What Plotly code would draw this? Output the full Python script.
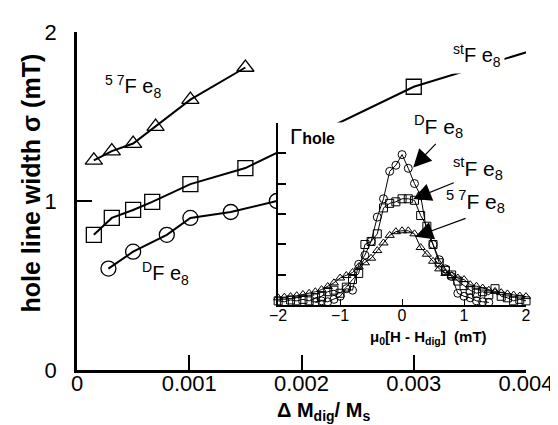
import plotly.graph_objects as go

# ---- main panel data ----
x57 = [0.00015, 0.00031, 0.0005, 0.0007, 0.00101, 0.0015]
y57 = [1.24, 1.295, 1.34, 1.44, 1.60, 1.79]

xst = [0.00015, 0.00031, 0.0005, 0.00067, 0.00101, 0.0015, 0.003, 0.0042]
yst = [0.80, 0.90, 0.947, 0.995, 1.10, 1.195, 1.676, 1.92]

xD = [0.00028, 0.0005, 0.0008, 0.00101, 0.00137, 0.00178]
yD = [0.60, 0.70, 0.80, 0.90, 0.935, 1.00]

main_xticks = [0, 0.001, 0.002, 0.003, 0.004]
main_xticktext = ["0", "0.001", "0.002", "0.003", "0.004"]
main_yticks = [0, 1, 2]

# ---- inset data ----
hx = [-2.0, -1.9, -1.8, -1.7, -1.6, -1.5, -1.4, -1.3, -1.2, -1.1, -1.0,
      -0.9, -0.8, -0.7, -0.6, -0.5, -0.4, -0.3, -0.2, -0.1, 0.0,
      0.1, 0.2, 0.3, 0.4, 0.5, 0.6, 0.7, 0.8, 0.9, 1.0,
      1.1, 1.2, 1.3, 1.4, 1.5, 1.6, 1.7, 1.8, 1.9, 2.0]

hD_x = hx[6:35]
hD = [0.10, 0.15, 0.12, 0.20, 0.30, 0.55, 0.50, 1.35, 1.65, 2.10, 2.90,
      3.50, 4.40, 4.60, 4.95, 4.50, 4.00, 3.60, 2.40, 2.00, 1.50,
      1.20, 0.95, 0.40, 0.30, 0.25, 0.15, 0.12, 0.10]

hst = [0.15, 0.12, 0.18, 0.15, 0.20, 0.15, 0.25, 0.30, 0.45, 0.50, 0.40,
       0.60, 0.85, 1.05, 2.00, 2.10, 2.35, 3.20, 3.35, 3.40, 3.50,
       3.50, 3.45, 2.95, 2.60, 2.00, 1.40, 1.15, 1.00, 0.80, 0.65,
       0.50, 0.40, 0.45, 0.35, 0.55, 0.30, 0.25, 0.15, 0.20, 0.15]

h57 = [0.25, 0.27, 0.29, 0.32, 0.36, 0.40, 0.45, 0.52, 0.62, 0.74, 0.90,
       0.98, 1.08, 1.27, 1.40, 1.55, 1.80, 2.05, 2.30, 2.42, 2.45,
       2.45, 2.35, 1.90, 1.68, 1.45, 1.20, 1.05, 0.98, 0.90, 0.85,
       0.68, 0.63, 0.57, 0.50, 0.46, 0.42, 0.38, 0.34, 0.31, 0.29]

inset_xticks = [-2, -1, 0, 1, 2]
inset_yticks = [0, 1, 2, 3, 4, 5, 6]

FONT = "Liberation Sans, Arial, Helvetica, sans-serif"

fig = go.Figure()

mk = dict(color="black", size=15, line=dict(color="black", width=1.3))
fig.add_trace(go.Scatter(x=x57, y=y57, mode="lines+markers",
                         line=dict(color="black", width=2),
                         marker=dict(symbol="triangle-up-open", **mk),
                         showlegend=False, xaxis="x", yaxis="y"))
fig.add_trace(go.Scatter(x=xst, y=yst, mode="lines+markers",
                         line=dict(color="black", width=2),
                         marker=dict(symbol="square-open", **mk),
                         showlegend=False, xaxis="x", yaxis="y"))
fig.add_trace(go.Scatter(x=xD, y=yD, mode="lines+markers",
                         line=dict(color="black", width=2),
                         marker=dict(symbol="circle-open", **mk),
                         showlegend=False, xaxis="x", yaxis="y"))

mi = dict(color="black", size=8, line=dict(color="black", width=1))
fig.add_trace(go.Scatter(x=hx, y=h57, mode="lines+markers",
                         line=dict(color="black", width=1),
                         marker=dict(symbol="triangle-up-open", **mi),
                         cliponaxis=False, showlegend=False, xaxis="x2", yaxis="y2"))
fig.add_trace(go.Scatter(x=hx, y=hst, mode="lines+markers",
                         line=dict(color="black", width=1),
                         marker=dict(symbol="square-open", **mi),
                         cliponaxis=False, showlegend=False, xaxis="x2", yaxis="y2"))
fig.add_trace(go.Scatter(x=hD_x, y=hD, mode="lines+markers",
                         line=dict(color="black", width=1),
                         marker=dict(symbol="circle-open", **mi),
                         cliponaxis=False, showlegend=False, xaxis="x2", yaxis="y2"))

W, H = 558, 425
L, R, T, B = 69, 36, 22, 63
pw, ph = W - L - R, H - T - B


def px(xp):
    return (xp - L) / pw


def py(yp):
    return (H - B - yp) / ph


C = dict(xanchor="center", yanchor="middle", showarrow=False)
ann = []
# main labels
ann.append(dict(x=0.0005, y=1.68, xref="x", yref="y",
                text="<sup>5 7</sup>F e<sub>8</sub>", font=dict(size=20), **C))
ann.append(dict(x=0.00079, y=0.57, xref="x", yref="y",
                text="<sup>D</sup>F e<sub>8</sub>", font=dict(size=20), **C))
ann.append(dict(x=0.00356, y=1.86, xref="x", yref="y",
                text="<sup>st</sup>F e<sub>8</sub>", font=dict(size=20),
                bgcolor="white", borderpad=3, **C))
# axis titles
ann.append(dict(x=px(23), y=py(174), xref="paper", yref="paper",
                text="<b>hole line width σ (mT)</b>", textangle=-90,
                font=dict(size=25), **C))
ann.append(dict(x=px(318), y=py(404), xref="paper", yref="paper",
                text="<b>Δ M<sub>dig</sub>/ M<sub>s</sub></b>", font=dict(size=20), **C))
# inset texts
ann.append(dict(x=px(282), y=py(127), xref="paper", yref="paper", showarrow=False,
                xanchor="left", yanchor="middle",
                text='<span style="font-size:22px">Γ</span><b>hole</b>',
                font=dict(size=16)))
ann.append(dict(x=px(424), y=py(329), xref="paper", yref="paper",
                text="<b>μ<sub>0</sub>[H - H<sub>dig</sub>]  (mT)</b>",
                font=dict(size=15), **C))
ann.append(dict(x=px(434), y=py(117), xref="paper", yref="paper",
                text="<sup>D</sup>F e<sub>8</sub>", font=dict(size=21), **C))
ann.append(dict(x=px(474), y=py(159), xref="paper", yref="paper",
                text="<sup>st</sup>F e<sub>8</sub>", font=dict(size=21), **C))
ann.append(dict(x=px(471), y=py(192), xref="paper", yref="paper",
                text="<sup>5 7</sup>F e<sub>8</sub>", font=dict(size=21), **C))
# arrows
for (tx, ty, ax, ay) in [(0.18, 4.53, 24, -25), (0.18, 3.49, 42, -17), (0.21, 2.25, 52, -19)]:
    ann.append(dict(x=tx, y=ty, xref="x2", yref="y2", text="", showarrow=True,
                    ax=ax, ay=ay, arrowhead=2, arrowsize=3, arrowwidth=1.2,
                    arrowcolor="black", standoff=0))

fig.update_layout(
    width=W, height=H,
    margin=dict(l=L, r=R, t=T, b=B, pad=0),
    paper_bgcolor="white", plot_bgcolor="white",
    font=dict(family=FONT, color="black", size=20),
    annotations=ann,
    shapes=[dict(type="rect", xref="x2", yref="y2", x0=-2, x1=2, y0=0, y1=6,
                 fillcolor="white", line=dict(width=0), layer="below")],
    xaxis=dict(domain=[0, 1], range=[0, 0.004], tickvals=main_xticks,
               ticktext=main_xticktext, ticks="inside", ticklen=15, tickwidth=1.5,
               tickcolor="black", showline=True, linewidth=2.5, linecolor="black",
               showgrid=False, zeroline=False, tickfont=dict(size=22),
               ticklabelstandoff=-8, anchor="y"),
    yaxis=dict(domain=[0, 1], range=[0, 2], tickvals=main_yticks,
               ticks="inside", ticklen=15, tickwidth=1.5, tickcolor="black",
               showline=True, linewidth=2.5, linecolor="black",
               showgrid=False, zeroline=False, tickfont=dict(size=22),
               ticklabelstandoff=13, anchor="x"),
    xaxis2=dict(domain=[0.448, 1.0], range=[-2, 2], tickvals=inset_xticks,
                ticks="inside", ticklen=6, tickwidth=1.2, tickcolor="black",
                showline=True, linewidth=2, linecolor="black",
                showgrid=False, zeroline=False, tickfont=dict(size=16),
                ticklabelstandoff=-6, anchor="y2"),
    yaxis2=dict(domain=[0.191, 0.732], range=[0, 6], tickvals=inset_yticks,
                ticks="inside", ticklen=8, tickwidth=1.5, tickcolor="black",
                showline=True, linewidth=2, linecolor="black", showticklabels=False,
                showgrid=False, zeroline=False, anchor="x2"),
)

fig.write_html("out.html")
